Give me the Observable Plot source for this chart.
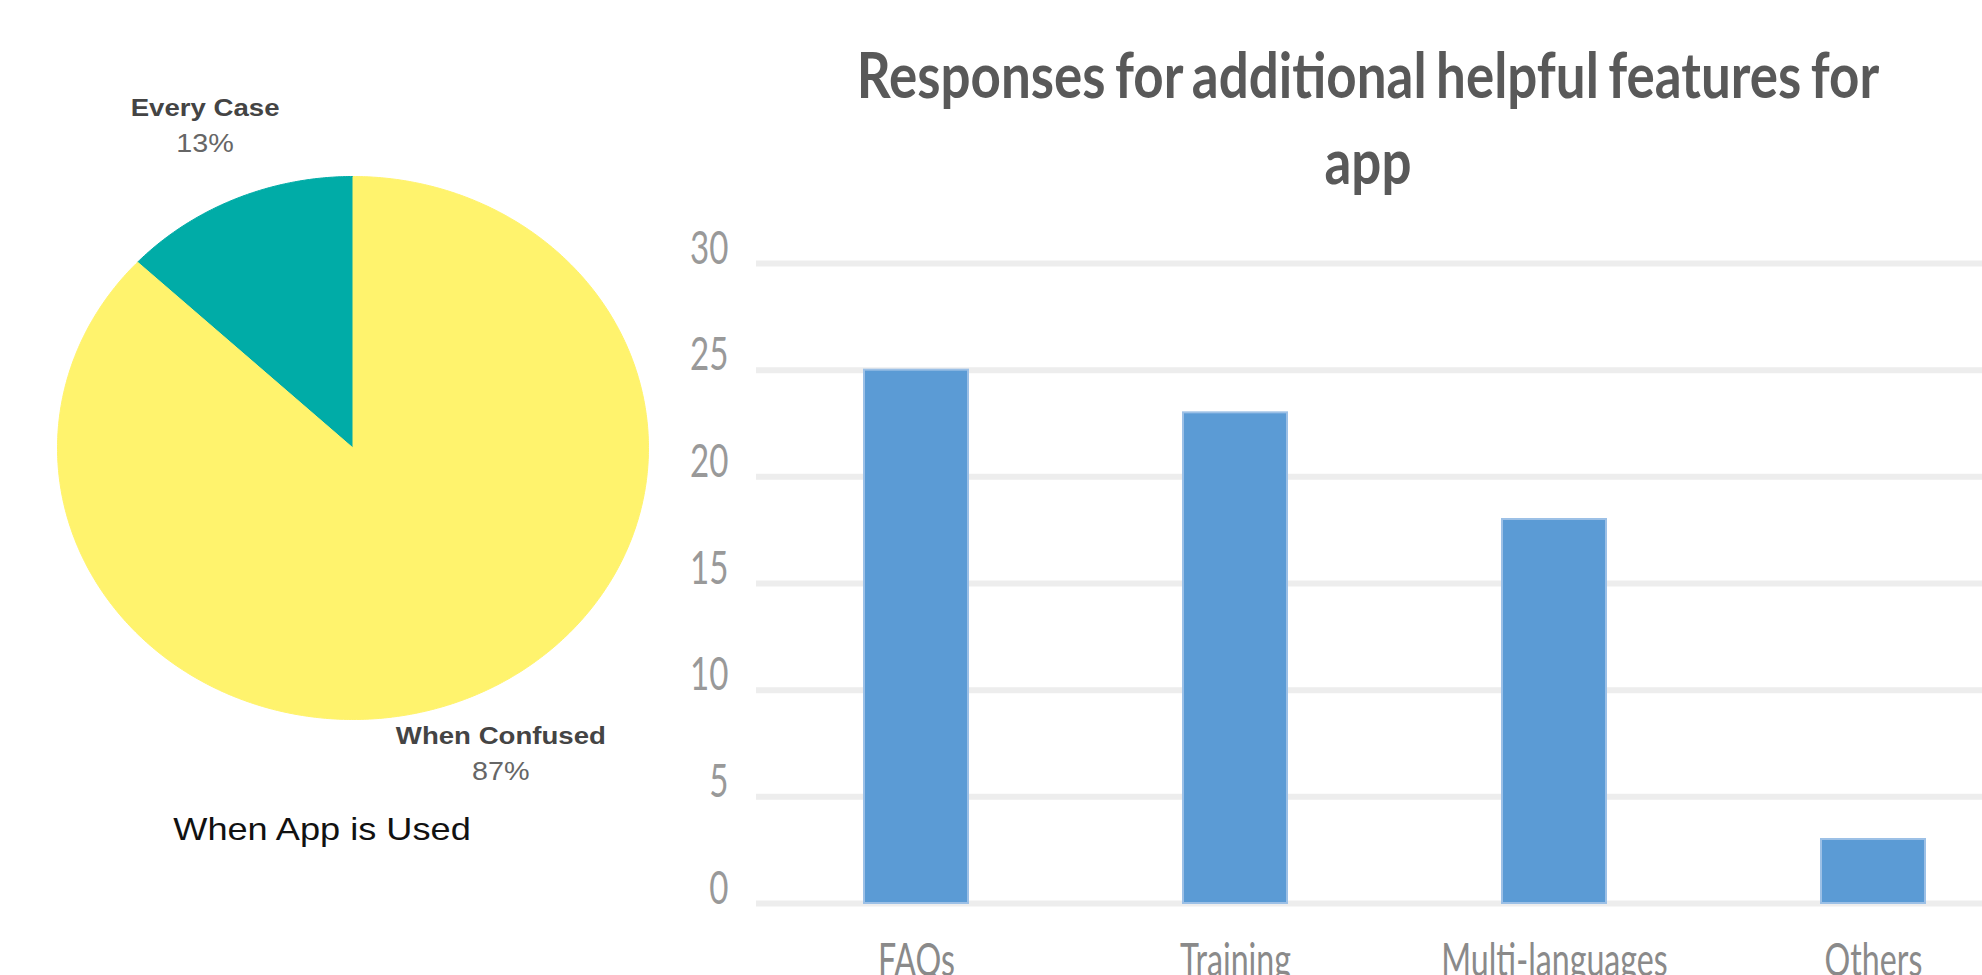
<!DOCTYPE html>
<html>
<head>
<meta charset="utf-8">
<script src="https://cdn.jsdelivr.net/npm/d3@7"></script>
<script src="https://cdn.jsdelivr.net/npm/@observablehq/plot@0.6"></script>
<style>
html, body { margin: 0; padding: 0; background: #fff; width: 1982px; height: 975px; overflow: hidden; position: relative; }
.abs { position: absolute; }
#title { left: 568px; top: 31px; width: 1600px; text-align: center; font-family: Lato, sans-serif; font-weight: bold; font-size: 63px; line-height: 86px; color: #595959; transform: scaleX(0.84); transform-origin: 800px 0; white-space: nowrap; word-spacing: -4px; }
#caption { left: 0; top: 813px; width: 644px; text-align: center; font-family: "Liberation Sans", Arial, sans-serif; font-size: 32px; line-height: 32px; color: #111; transform: scaleX(1.13); transform-origin: 322px 0; white-space: nowrap; }
svg { max-width: none !important; }
</style>
</head>
<body>
<div id="pie" class="abs" style="left:0;top:0;width:700px;height:800px"></div>
<div id="caption" class="abs">When App is Used</div>
<div id="title" class="abs">Responses for additional helpful features for<br>app</div>
<div id="bars" class="abs" style="left:660px;top:200px;width:1322px;height:775px"></div>
<script>
// ---- data ----
const pieNames = ["Every Case", "When Confused"];
const pieValues = [13, 87];
const pieColors = ["#00ACA7", "#FFF36D"];

const barCategories = ["FAQs", "Training", "Multi-languages", "Others"];
const barValues = [25, 23, 18, 3];
const yTicks = [0, 5, 10, 15, 20, 25, 30];

// ---- helpers ----
function squeeze(root, selector, sx) {
  root.querySelectorAll(selector + " text").forEach(t => {
    let tr = t.getAttribute("transform") || "";
    const x = t.getAttribute("x"), y = t.getAttribute("y");
    if (x !== null || y !== null) {
      tr += ` translate(${+x || 0},${+y || 0})`;
      t.removeAttribute("x"); t.removeAttribute("y");
    }
    t.setAttribute("transform", tr + ` scale(${sx},1)`);
  });
}

// ---- pie ----
const arcs = d3.pie().sort(null).startAngle(0).endAngle(-2 * Math.PI)(pieValues);
const slicePoints = arcs.map(a => {
  const pts = [{x: 0, y: 0}];
  const n = Math.max(2, Math.ceil(Math.abs(a.endAngle - a.startAngle) / (Math.PI / 360)));
  for (let k = 0; k <= n; k++) {
    const t = a.startAngle + (a.endAngle - a.startAngle) * k / n;
    pts.push({x: Math.sin(t), y: Math.cos(t)});
  }
  pts.push({x: 0, y: 0});
  return pts;
});
const pieLabels = arcs.map((a, i) => {
  const m = (a.startAngle + a.endAngle) / 2;
  return {name: pieNames[i], pct: pieValues[i] + "%", x: 1.26 * Math.sin(m), y: 1.26 * Math.cos(m)};
});

const pie = Plot.plot({
  width: 700, height: 800, margin: 0,
  x: {domain: [-1, 1], range: [57, 648], axis: null},
  y: {domain: [-1, 1], range: [719, 176], axis: null},
  style: {background: "transparent", fontFamily: "'Liberation Sans', Arial, sans-serif"},
  marks: [
    ...slicePoints.map((pts, i) => Plot.line(pts, {x: "x", y: "y", fill: pieColors[i], stroke: pieColors[i], strokeWidth: 1, curve: "linear"})),
    Plot.text(pieLabels, {x: "x", y: "y", text: "name", dy: -18, fontSize: 24, fontWeight: "bold", fill: "#444"}),
    Plot.text(pieLabels, {x: "x", y: "y", text: "pct", dy: 18, fontSize: 25, fill: "#666"})
  ]
});
squeeze(pie, 'g[aria-label="text"]', 1.15);
document.getElementById("pie").appendChild(pie);

// ---- bars ----
const barData = barCategories.map((c, i) => ({category: c, value: barValues[i]}));
const bars = Plot.plot({
  width: 1322, height: 775,
  marginLeft: 96, marginRight: 0, marginTop: 63, marginBottom: 72,
  x: {type: "band", domain: barCategories, range: [96.5, 1372.5], paddingInner: 0.674, paddingOuter: 0.337},
  y: {domain: [0, 30]},
  style: {background: "transparent", fontFamily: "Lato, sans-serif"},
  marks: [
    Plot.ruleY(yTicks, {stroke: "#ededed", strokeWidth: 6}),
    Plot.barY(barData, {x: "category", y: "value", fill: "#5B9BD5", stroke: "#9cc0e6", strokeWidth: 2}),
    Plot.axisY({ticks: yTicks, tickSize: 0, tickPadding: 28, fontSize: 46, color: "#999999", label: null}),
    Plot.axisX({tickSize: 0, tickPadding: 72, fontSize: 46, color: "#8a8a8a", label: null})
  ]
});
squeeze(bars, 'g[aria-label="y-axis tick label"]', 0.72);
squeeze(bars, 'g[aria-label="x-axis tick label"]', 0.7);
document.getElementById("bars").appendChild(bars);
</script>
</body>
</html>
